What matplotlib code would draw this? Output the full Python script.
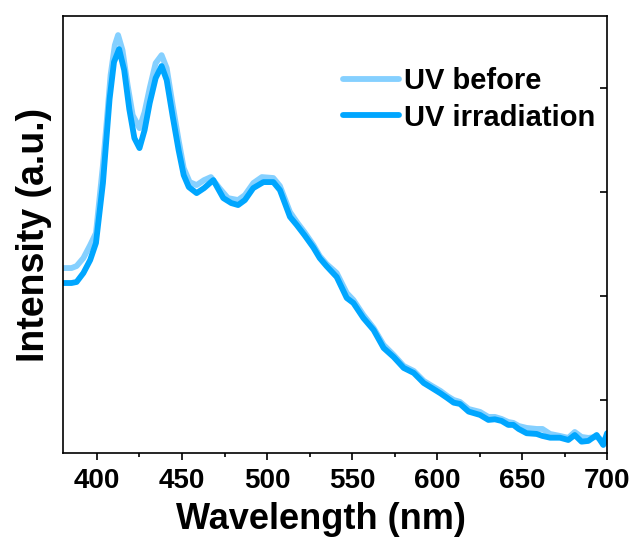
import matplotlib
matplotlib.use("Agg")
import matplotlib.pyplot as plt
from matplotlib.ticker import MultipleLocator

plt.rcParams['font.family'] = ['Liberation Sans', 'DejaVu Sans']
plt.rcParams['font.weight'] = 'bold'

wl_irr = [380, 385, 388, 392, 396, 399.4, 403.5, 407.4, 410, 413, 416, 419, 422, 425, 428, 431,
          434.5, 438, 441, 444.5, 448, 451, 454, 458.6, 463, 468.4, 474.3, 479, 483, 487, 491.9,
          497.9, 503.7, 507.6, 513.5, 517.5, 522, 527.3, 531, 535, 541, 546.9, 550.8, 556.7,
          562.7, 568.6, 574.5, 580.4, 586.3, 592.2, 597, 602, 606, 609.8, 613.5, 618.6, 625.3,
          630.2, 634, 638, 641.9, 644.9, 648, 652.7, 658.6, 662, 666.5, 672.3, 677.2, 681, 685,
          689, 693.9, 697.8, 700]
int_irr = [2.125, 2.125, 2.135, 2.221, 2.346, 2.510, 3.087, 3.894, 4.25, 4.375, 4.173, 3.798,
           3.519, 3.423, 3.596, 3.856, 4.096, 4.212, 4.077, 3.731, 3.404, 3.163, 3.048, 2.990,
           3.038, 3.115, 2.942, 2.894, 2.875, 2.923, 3.038, 3.096, 3.096, 3.019, 2.762, 2.683,
           2.587, 2.466, 2.365, 2.288, 2.183, 1.981, 1.933, 1.788, 1.673, 1.5, 1.413, 1.308,
           1.26, 1.163, 1.115, 1.064, 1.019, 0.974, 0.962, 0.888, 0.856, 0.808, 0.814, 0.798,
           0.760, 0.760, 0.721, 0.680, 0.673, 0.654, 0.637, 0.637, 0.615, 0.663, 0.599, 0.606,
           0.663, 0.567, 0.680]

wl_before = [380, 385, 388, 392, 396, 399.4, 403.5, 405.5, 408, 410.5, 412.4, 415, 418, 421, 425,
             428, 431, 434.5, 438, 441, 444.5, 448, 451, 454.5, 458.6, 463, 467, 472, 477, 483,
             487, 492, 497, 503.7, 507.6, 513.5, 517.5, 522, 527.3, 531, 535, 541, 546.9, 550.8,
             556.7, 562.7, 568.6, 574.5, 580.4, 586.3, 592.2, 597, 602, 606, 609.8, 613.5, 618.6,
             625.3, 630.2, 634, 638, 641.9, 644.9, 648, 652.7, 658.6, 662, 666.5, 672.3, 677.2,
             681, 685, 689, 693.9, 697.8, 700]
int_before = [2.269, 2.269, 2.288, 2.365, 2.49, 2.606, 3.26, 3.635, 4.125, 4.413, 4.51, 4.365,
              4.03, 3.74, 3.615, 3.769, 4.0, 4.24, 4.317, 4.192, 3.837, 3.5, 3.231, 3.096, 3.067,
              3.115, 3.144, 3.038, 2.942, 2.923, 2.971, 3.087, 3.144, 3.135, 3.058, 2.808, 2.712,
              2.615, 2.49, 2.385, 2.308, 2.221, 2.029, 1.962, 1.817, 1.692, 1.529, 1.433, 1.327,
              1.279, 1.183, 1.135, 1.087, 1.038, 1.0, 0.981, 0.913, 0.885, 0.837, 0.837, 0.817,
              0.788, 0.779, 0.75, 0.731, 0.721, 0.721, 0.673, 0.654, 0.635, 0.692, 0.644, 0.635,
              0.644, 0.606, 0.596]

labels = ["UV before", "UV irradiation"]
colors = ["#85D0FF", "#00A6FF"]

fig = plt.figure(figsize=(6.33, 5.39), dpi=100)
ax = fig.add_axes([0.0995, 0.1596, 0.8595, 0.8104])

ax.plot(wl_before, int_before, color=colors[0], lw=4.2, label=labels[0],
        solid_joinstyle='round', solid_capstyle='round')
ax.plot(wl_irr, int_irr, color=colors[1], lw=4.2, label=labels[1],
        solid_joinstyle='round', solid_capstyle='round')

ax.set_xlim(380, 700)
ax.set_ylim(0.49, 4.692)

ax.xaxis.set_major_locator(MultipleLocator(50))
ax.xaxis.set_minor_locator(MultipleLocator(25))
ax.yaxis.set_major_locator(MultipleLocator(1))

ax.tick_params(axis='x', which='major', direction='out', length=5, width=1.2,
               labelsize=20, pad=6)
ax.tick_params(axis='x', which='minor', direction='out', length=3, width=1.2)
ax.tick_params(axis='y', which='both', left=False, labelleft=False,
               right=True, labelright=False, direction='in', length=5, width=1.2)
for lab in ax.get_xticklabels():
    lab.set_fontweight('bold')

for s in ax.spines.values():
    s.set_linewidth(1.2)

ax.set_xlabel("Wavelength (nm)", fontsize=26, fontweight='bold')
ax.xaxis.set_label_coords(0.474, -0.112)
ax.set_ylabel("Intensity (a.u.)", fontsize=27, fontweight='bold', labelpad=8)

leg = ax.legend(loc='upper left', bbox_to_anchor=(0.515, 0.884), frameon=False,
                prop={'size': 21, 'weight': 'bold'}, handlelength=1.9,
                handletextpad=0.2, labelspacing=0.3, borderaxespad=0.0, borderpad=0.0)

fig.savefig("out.png", dpi=100)
